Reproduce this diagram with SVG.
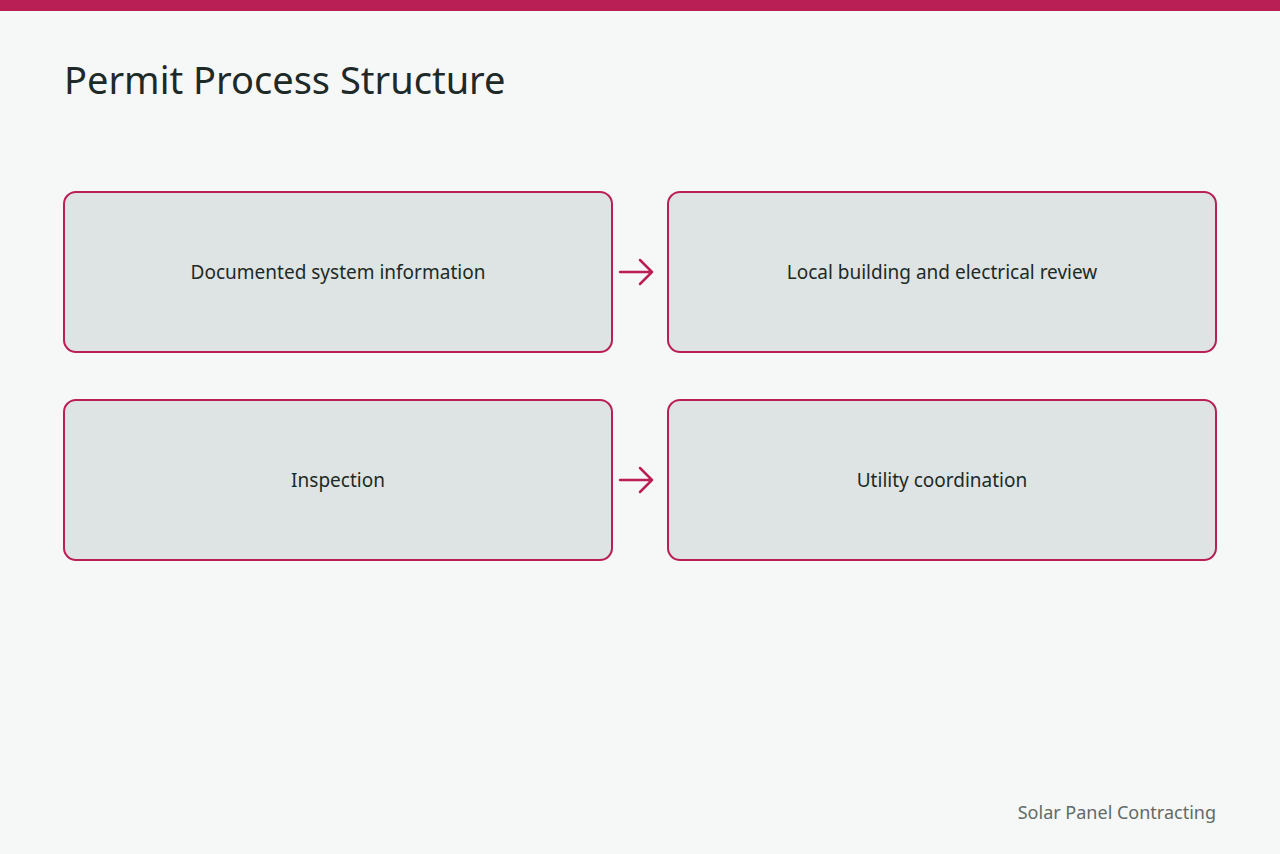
<svg xmlns="http://www.w3.org/2000/svg" width="1280" height="854" viewBox="0 0 1280 854">
<defs>
<style>
.box{fill:#dde4e3;stroke:#b91f55;stroke-width:2}
.lbl{font-family:"Noto Sans","Open Sans",sans-serif;font-size:19px;fill:#1d2a27;text-anchor:middle}
.arr{fill:none;stroke:#b91f55;stroke-width:2.5;stroke-linecap:round;stroke-linejoin:round}
</style>
</defs>
<rect width="1280" height="854" fill="#f6f7f7"/>
<rect width="1280" height="11" fill="#b91f55"/>
<text x="64" y="94" font-family="Noto Sans,Open Sans,sans-serif" font-size="38" fill="#1d2a27">Permit Process Structure</text>
<g id="n1"><rect class="box" x="64" y="192" width="548" height="160" rx="12"/><text class="lbl" x="338" y="279">Documented system information</text></g>
<g id="n2"><rect class="box" x="668" y="192" width="548" height="160" rx="12"/><text class="lbl" x="942" y="279">Local building and electrical review</text></g>
<g id="n3"><rect class="box" x="64" y="400" width="548" height="160" rx="12"/><text class="lbl" x="338" y="487">Inspection</text></g>
<g id="n4"><rect class="box" x="668" y="400" width="548" height="160" rx="12"/><text class="lbl" x="942" y="487">Utility coordination</text></g>
<g id="connectors">
<path class="arr" d="M620 272H652M640 260L652 272L640 284"/>
<path class="arr" d="M620 480H652M640 468L652 480L640 492"/>
</g>
<text x="1216" y="819" text-anchor="end" font-family="Noto Sans,Open Sans,sans-serif" font-size="18" fill="#5f6b68">Solar Panel Contracting</text>
</svg>
